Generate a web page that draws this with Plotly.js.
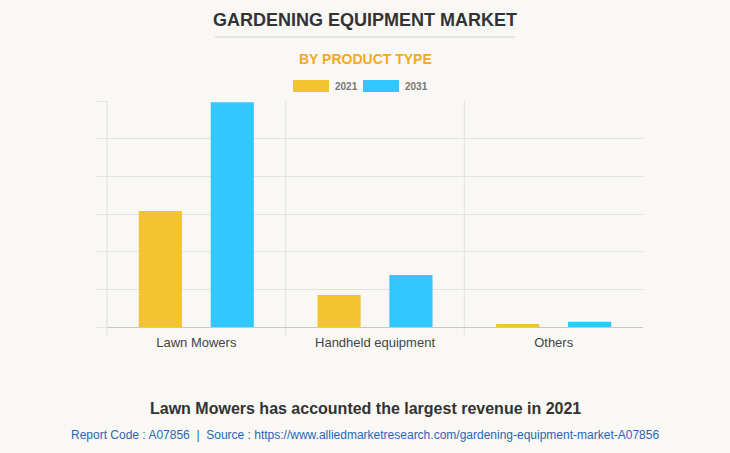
<!DOCTYPE html>
<html>
<head>
<meta charset="utf-8">
<script src="https://cdn.plot.ly/plotly-3.0.1.min.js"></script>
<style>
html,body{margin:0;padding:0;background:#f9f8f4;}
#chart{width:730px;height:453px;}
</style>
</head>
<body>
<div id="chart"></div>
<script>
const categories = ["Lawn Mowers", "Handheld equipment", "Others"];
const series2021 = [3.08, 0.85, 0.08];
const series2031 = [5.97, 1.38, 0.14];
const seriesNames = ["2021", "2031"];
const colors = ["#f4c430", "#33c7ff"];

const font = "Liberation Sans, Arial, sans-serif";

const traces = [
  {type: "bar", x: categories, y: series2021, name: seriesNames[0], marker: {color: colors[0]}, showlegend: false, hoverinfo: "none"},
  {type: "bar", x: categories, y: series2031, name: seriesNames[1], marker: {color: colors[1]}, showlegend: false, hoverinfo: "none"}
];

const boundaryShapes = [0.5, 1.5].map(b => ({
  type: "line", xref: "x", yref: "paper", x0: b, x1: b, y0: -8/226, y1: 1,
  line: {color: "#e2e2e2", width: 1}, layer: "below"
}));
boundaryShapes.push({
  type: "line", xref: "paper", yref: "paper", x0: 0, x1: 0, y0: -8/226, y1: 1,
  line: {color: "#dedede", width: 1}, layer: "below"
});

const layout = {
  width: 730, height: 453,
  paper_bgcolor: "#f9f8f4", plot_bgcolor: "#f9f8f4",
  margin: {l: 107, r: 87, t: 101, b: 126},
  barmode: "group", bargap: 0.195, bargroupgap: 0.4,
  font: {family: font},
  xaxis: {
    type: "category", ticks: "", showgrid: false,
    showline: true, linecolor: "#c8c8c8", linewidth: 1,
    ticklabelstandoff: 3,
    tickfont: {size: 13, color: "#444", family: font}, fixedrange: true
  },
  yaxis: {
    range: [0, 6], dtick: 1, showticklabels: false, ticks: "outside", ticklen: 9, tickcolor: "#e2e2e2",
    showgrid: true, gridcolor: "#e2e2e2", zeroline: false,
    showline: false, fixedrange: true
  },
  shapes: boundaryShapes.concat([
    {type: "line", xref: "paper", yref: "paper", x0: (215-107)/536, x1: (515-107)/536, y0: (453-126-37)/226, y1: (453-126-37)/226, line: {color: "#cfcfcf", width: 1}},
    {type: "rect", xref: "paper", yref: "paper", x0: (293-107)/536, x1: (329-107)/536, y0: (327-92)/226, y1: (327-80)/226, fillcolor: colors[0], line: {width: 0}},
    {type: "rect", xref: "paper", yref: "paper", x0: (363-107)/536, x1: (399-107)/536, y0: (327-92)/226, y1: (327-80)/226, fillcolor: colors[1], line: {width: 0}}
  ]),
  annotations: [
    {text: "<b>GARDENING EQUIPMENT MARKET</b>", xref: "paper", yref: "paper", x: (365-107)/536, y: (327-20)/226, xanchor: "center", yanchor: "middle", showarrow: false, font: {size: 18, color: "#333", family: font}},
    {text: "<b>BY PRODUCT TYPE</b>", xref: "paper", yref: "paper", x: (365-107)/536, y: (327-59)/226, xanchor: "center", yanchor: "middle", showarrow: false, font: {size: 14, color: "#f7a823", family: font}},
    {text: "<b>" + seriesNames[0] + "</b>", xref: "paper", yref: "paper", x: (333-107)/536, y: (327-86)/226, xanchor: "left", yanchor: "middle", showarrow: false, font: {size: 10, color: "#777", family: font}},
    {text: "<b>" + seriesNames[1] + "</b>", xref: "paper", yref: "paper", x: (403-107)/536, y: (327-86)/226, xanchor: "left", yanchor: "middle", showarrow: false, font: {size: 10, color: "#777", family: font}},
    {text: "<b>Lawn Mowers has accounted the largest revenue in 2021</b>", xref: "paper", yref: "paper", x: (365-107)/536, y: (327-408)/226, xanchor: "center", yanchor: "middle", showarrow: false, font: {size: 16, color: "#333", family: font}},
    {text: "Report Code : A07856  |  Source : https://www.alliedmarketresearch.com/gardening-equipment-market-A07856", xref: "paper", yref: "paper", x: (365-107)/536, y: (327-435)/226, xanchor: "center", yanchor: "middle", showarrow: false, font: {size: 12, color: "#2a66b8", family: font}}
  ]
};

Plotly.newPlot("chart", traces, layout, {displayModeBar: false, staticPlot: true});
</script>
</body>
</html>
